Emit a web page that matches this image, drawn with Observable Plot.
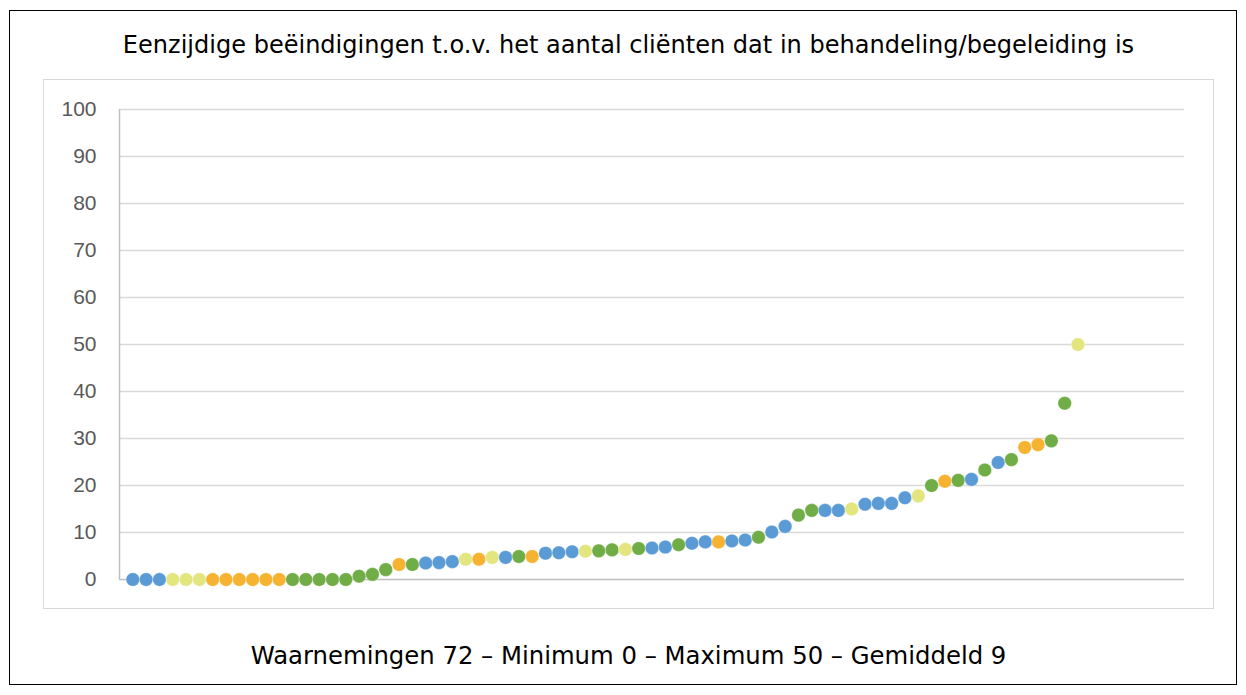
<!DOCTYPE html>
<html>
<head>
<meta charset="utf-8">
<script src="https://cdn.jsdelivr.net/npm/d3@7"></script>
<script src="https://cdn.jsdelivr.net/npm/@observablehq/plot@0.6"></script>
<style>
  html, body { margin: 0; padding: 0; background: #fff; }
  #frame { position: absolute; left: 9px; top: 10px; width: 1226px; height: 673px; border: 1.5px solid #000; }
  #inner { position: absolute; left: 43px; top: 79px; width: 1169px; height: 528px; border: 1.5px solid #d9d9d9; }
  #chart { position: absolute; left: 43px; top: 79px; }
  .txt { position: absolute; left: 43px; width: 1171px; text-align: center; font-family: "DejaVu Sans", Verdana, sans-serif; color: #000; line-height: 1; white-space: nowrap; }
  #title { top: 34px; font-size: 22.5px; }
  #footer { top: 646px; font-size: 22.5px; }
</style>
</head>
<body>
<div id="frame"></div>
<div id="inner"></div>
<div id="title" class="txt"><span>Eenzijdige beëindigingen t.o.v. het aantal cliënten dat in behandeling/begeleiding is</span></div>
<div id="chart"></div>
<div id="footer" class="txt"><span>Waarnemingen 72 – Minimum 0 – Maximum 50 – Gemiddeld 9</span></div>
<script>
const values = [
  0, 0, 0, 0, 0, 0, 0, 0, 0, 0, 0, 0, 0, 0, 0, 0, 0,
  0.7, 1.1, 2.1, 3.2, 3.2, 3.5, 3.6, 3.8, 4.3, 4.3, 4.7, 4.7, 4.9, 4.9,
  5.6, 5.7, 5.9, 6.0, 6.1, 6.3, 6.4, 6.6, 6.7, 6.9, 7.4, 7.7, 8.0, 8.0,
  8.2, 8.4, 9.0, 10.1, 11.3, 13.7, 14.7, 14.7, 14.7, 15.0, 16.0, 16.2, 16.2,
  17.4, 17.8, 20.0, 20.9, 21.1, 21.3, 23.3, 24.9, 25.5, 28.1, 28.7, 29.5, 37.5, 50.0
];
// Colour group of each observation (B = blauw, Y = geel, O = oranje, G = groen)
const groups = "BBBYYYOOOOOOGGGGGGGGOGBBBYOYBGOBBBYGGYGBBGBBOBBGBBGGBBYBBBBYGOGBGBGOOGGY".split("");
const categories = ["B", "Y", "O", "G"];
const palette = ["#5b9bd5", "#e3e67f", "#f5b331", "#70ad47"];
const yTicks = [0, 10, 20, 30, 40, 50, 60, 70, 80, 90, 100];
const gridTicks = [10, 20, 30, 40, 50, 60, 70, 80, 90, 100];

const data = values.map((v, i) => ({ idx: i + 1, value: v, group: groups[i] }));

const chart = Plot.plot({
  width: 1171,
  height: 530,
  marginLeft: 76,
  marginRight: 30,
  marginTop: 30,
  marginBottom: 30,
  x: { domain: [0, 80], axis: null },
  y: { domain: [0, 100], axis: null },
  color: { domain: categories, range: palette },
  style: { background: "transparent" },
  marks: [
    Plot.ruleY(gridTicks, { stroke: "#d9d9d9", strokeWidth: 1.3 }),
    Plot.ruleY([0], { stroke: "#bfbfbf", strokeWidth: 1.5 }),
    Plot.ruleX([0], { y1: 0, y2: 100, stroke: "#bfbfbf", strokeWidth: 1.5 }),
    Plot.axisY(yTicks, {
      tickSize: 0, tickPadding: 23, anchor: "left", label: null,
      fontSize: 21, fill: "#595959",
      fontFamily: "Liberation Sans, Arial, sans-serif"
    }),
    Plot.dot(data, {
      x: "idx", y: "value", fill: "group", r: 6.8,
      stroke: "white", strokeWidth: 0.6, strokeOpacity: 0.5
    })
  ]
});
document.getElementById("chart").appendChild(chart);

// fit texts to the widths they take in the reference
function fit(id, target) {
  const el = document.getElementById(id);
  const span = el.querySelector("span");
  const fs = parseFloat(getComputedStyle(el).fontSize);
  const w = span.getBoundingClientRect().width;
  const nfs = fs * target / w;
  el.style.fontSize = nfs + "px";
  const top = parseFloat(getComputedStyle(el).top);
  el.style.top = (top + 0.846 * (fs - nfs)) + "px";
}
fit("title", 1012);
fit("footer", 756);
</script>
</body>
</html>
